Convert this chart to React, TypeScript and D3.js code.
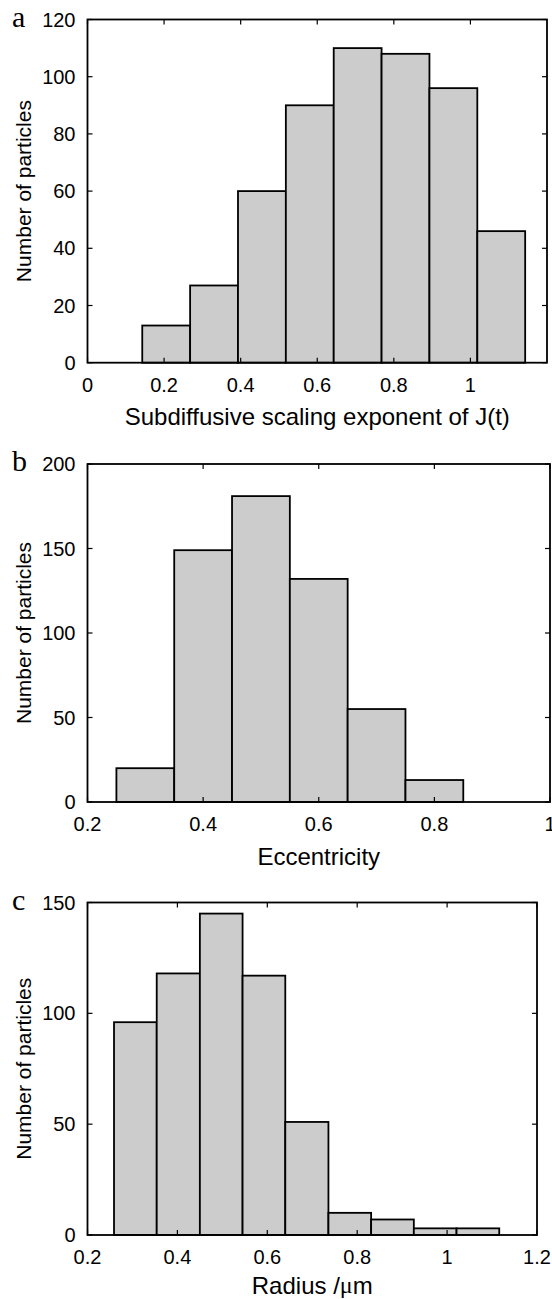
import React from "react";
import * as d3 from "d3";

// panel a: subdiffusive scaling exponent
const edgesA = [0.143, 0.268, 0.393, 0.518, 0.643, 0.768, 0.893, 1.018, 1.143];
const countsA = [13, 27, 60, 90, 110, 108, 96, 46];
const xTicksA = [0, 0.2, 0.4, 0.6, 0.8, 1];
const yTicksA = [0, 20, 40, 60, 80, 100, 120];

// panel b: eccentricity
const edgesB = [0.25, 0.35, 0.45, 0.55, 0.65, 0.75, 0.85];
const countsB = [20, 149, 181, 132, 55, 13];
const xTicksB = [0.2, 0.4, 0.6, 0.8, 1];
const yTicksB = [0, 50, 100, 150, 200];

// panel c: radius
const edgesC = [0.259, 0.354, 0.45, 0.545, 0.64, 0.736, 0.831, 0.926, 1.021, 1.116];
const countsC = [96, 118, 145, 117, 51, 10, 7, 3, 3];
const xTicksC = [0.2, 0.4, 0.6, 0.8, 1, 1.2];
const yTicksC = [0, 50, 100, 150];

const SANS = "'Liberation Sans', Arial, Helvetica, sans-serif";
const SERIF = "'Liberation Serif', 'Times New Roman', serif";
const fmt = (d: number) => String(+d.toFixed(2));

type PanelProps = {
  letter: string;
  top: number;
  bottom: number;
  right: number;
  xDomain: [number, number];
  yDomain: [number, number];
  edges: number[];
  counts: number[];
  xTicks: number[];
  yTicks: number[];
  xLabel: React.ReactNode;
  xLabelGap?: number;
};

const LEFT = 87.5;
const TICK = 5;

const Panel = ({ letter, top, bottom, right, xDomain, yDomain, edges, counts, xTicks, yTicks, xLabel, xLabelGap = 54 }: PanelProps) => {
  const x = d3.scaleLinear().domain(xDomain).range([LEFT, right]);
  const y = d3.scaleLinear().domain(yDomain).range([bottom, top]);
  const bins = counts.map((c, i) => ({ x0: edges[i], x1: edges[i + 1], c }));
  const midY = (top + bottom) / 2;

  return (
    <g>
      {bins.map((b, i) => (
        <rect
          key={i}
          x={x(b.x0)}
          y={y(b.c)}
          width={x(b.x1) - x(b.x0)}
          height={y(0) - y(b.c)}
          fill="#cccccc"
          stroke="#000"
          strokeWidth={1.8}
        />
      ))}
      {xTicks.map((t) => (
        <g key={"x" + t}>
          <line x1={x(t)} x2={x(t)} y1={bottom} y2={bottom - TICK} stroke="#000" strokeWidth={1.2} />
          <line x1={x(t)} x2={x(t)} y1={top} y2={top + TICK} stroke="#000" strokeWidth={1.2} />
          <text x={x(t)} y={bottom + 22} textAnchor="middle" dominantBaseline="central" fontSize={20} fontFamily={SANS}>
            {fmt(t)}
          </text>
        </g>
      ))}
      {yTicks.map((t) => (
        <g key={"y" + t}>
          <line x1={LEFT} x2={LEFT + TICK} y1={y(t)} y2={y(t)} stroke="#000" strokeWidth={1.2} />
          <line x1={right} x2={right - TICK} y1={y(t)} y2={y(t)} stroke="#000" strokeWidth={1.2} />
          <text x={LEFT - 12} y={y(t)} textAnchor="end" dominantBaseline="central" fontSize={20} fontFamily={SANS}>
            {fmt(t)}
          </text>
        </g>
      ))}
      <rect x={LEFT} y={top} width={right - LEFT} height={bottom - top} fill="none" stroke="#000" strokeWidth={1.8} />
      <text x={(LEFT + right) / 2} y={bottom + xLabelGap} textAnchor="middle" dominantBaseline="central" fontSize={24} fontFamily={SANS}>
        {xLabel}
      </text>
      <text
        transform={`translate(23,${midY}) rotate(-90)`}
        textAnchor="middle"
        dominantBaseline="central"
        fontSize={21}
        fontFamily={SANS}
      >
        Number of particles
      </text>
      <text x={12} y={top + 7} fontSize={30} fontFamily={SERIF}>
        {letter}
      </text>
    </g>
  );
};

export default function App() {
  return (
    <svg
      width={552}
      height={1299}
      style={{ position: "absolute", left: 0, top: 0, background: "#fff" }}
    >
      <Panel
        letter="a"
        top={19.5}
        bottom={362.7}
        right={547}
        xDomain={[0, 1.2]}
        yDomain={[0, 120]}
        edges={edgesA}
        counts={countsA}
        xTicks={xTicksA}
        yTicks={yTicksA}
        xLabel="Subdiffusive scaling exponent of J(t)"
      />
      <Panel
        letter="b"
        top={464}
        bottom={802}
        right={550}
        xDomain={[0.2, 1]}
        yDomain={[0, 200]}
        edges={edgesB}
        counts={countsB}
        xTicks={xTicksB}
        yTicks={yTicksB}
        xLabel="Eccentricity"
      />
      <Panel
        letter="c"
        top={902.5}
        bottom={1235}
        right={537}
        xDomain={[0.2, 1.2]}
        yDomain={[0, 150]}
        edges={edgesC}
        counts={countsC}
        xTicks={xTicksC}
        yTicks={yTicksC}
        xLabelGap={50}
        xLabel={
          <>
            Radius /<tspan fontFamily={SERIF}>μ</tspan>m
          </>
        }
      />
    </svg>
  );
}
